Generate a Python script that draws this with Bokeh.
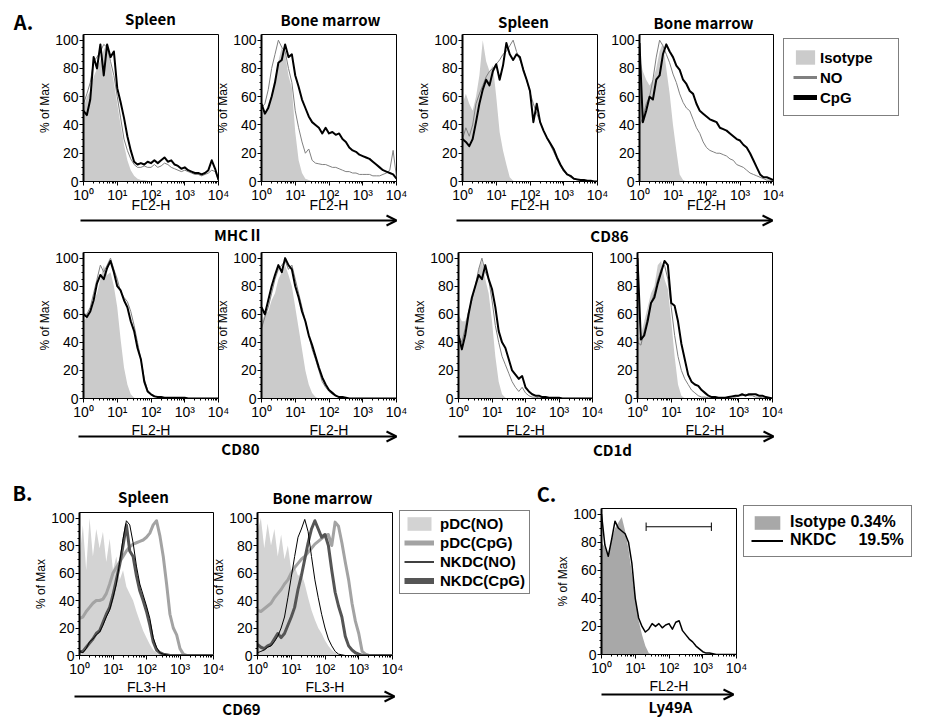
from bokeh.plotting import figure
from bokeh.models import (Range1d, FixedTicker, SingleIntervalTicker, Label, Arrow,
                          OpenHead, Legend, LegendItem)
from bokeh.embed import file_html
from bokeh.resources import INLINE

# ------------------------------------------------------------------ data
# channel positions in decades (log10 of fluorescence)
XD = [0.0, 0.1, 0.2, 0.3, 0.4, 0.5, 0.6, 0.7, 0.8, 0.9,
      1.0, 1.1, 1.2, 1.3, 1.4, 1.5, 1.6, 1.7, 1.8, 1.9,
      2.0, 2.1, 2.2, 2.3, 2.4, 2.5, 2.6, 2.7, 2.8, 2.9,
      3.0, 3.1, 3.2, 3.3, 3.4, 3.5, 3.6, 3.7, 3.8, 3.9,
      4.0]

MAJOR_TICKS = [1, 10, 100, 1000, 10000]
MAJOR_LABELS = ["10\u2070", "10\u00b9", "10\u00b2", "10\u00b3", "10\u2074"]
MINOR_TICKS = [2, 3, 4, 5, 6, 7, 8, 9,
               20, 30, 40, 50, 60, 70, 80, 90,
               200, 300, 400, 500, 600, 700, 800, 900,
               2000, 3000, 4000, 5000, 6000, 7000, 8000, 9000]

# A. MHC II
MHC_SP_ISO = [52, 60, 64, 74, 80, 86, 93, 98, 82, 70,
              55, 40, 26, 15, 8, 4, 2, 1, 1, 0.5,
              0, 0, 0, 0, 0, 0, 0, 0, 0, 0,
              0, 0, 0, 0, 0, 0, 0, 0, 0, 0,
              0]
MHC_SP_NO = [55, 62, 70, 85, 88, 92, 97, 95, 85, 75,
             60, 45, 30, 22, 16, 12, 10, 10, 11, 10,
             10, 12, 10, 11, 13, 12, 10, 9, 8, 7,
             8, 7, 6, 5, 5, 4, 5, 6, 8, 7,
             1]
MHC_SP_CPG = [50, 47, 58, 88, 80, 97, 75, 97, 88, 92,
              66, 56, 45, 32, 22, 14, 12, 13, 12, 14,
              13, 15, 13, 15, 17, 14, 15, 12, 11, 9,
              10, 8, 7, 6, 6, 5, 6, 8, 15, 9,
              1]
MHC_BM_ISO = [50, 48, 55, 62, 74, 85, 95, 90, 75, 66,
              35, 15, 6, 2, 1, 0, 0, 0, 0, 0,
              0, 0, 0, 0, 0, 0, 0, 0, 0, 0,
              0, 0, 0, 0, 0, 0, 0, 0, 0, 0,
              0]
MHC_BM_NO = [52, 55, 65, 80, 90, 100, 95, 92, 80, 70,
             50, 38, 28, 20, 23, 15, 13, 12.5, 12, 12,
             11, 10, 10, 9, 8, 7, 7, 6, 6, 5,
             5, 5, 5, 4, 4, 4, 5, 6, 8, 22,
             3]
MHC_BM_CPG = [55, 48, 52, 60, 70, 84, 86, 97, 88, 90,
              75, 67, 58, 52, 46, 42, 40, 38, 34, 38,
              34, 35, 33, 34, 30, 28, 24, 22, 21, 19,
              18, 17, 16, 14, 12, 10, 8, 7, 6, 5,
              2]
# A. CD86
CD86_SP_ISO = [55, 62, 55, 50, 60, 75, 100, 85, 78, 82,
               60, 35, 22, 12, 3, 0.5, 0, 0, 0, 0,
               0, 0, 0, 0, 0, 0, 0, 0, 0, 0,
               0, 0, 0, 0, 0, 0, 0, 0, 0, 0,
               0]
CD86_SP_NO = [30, 38, 32, 40, 55, 62, 68, 74, 78, 80,
              83, 86, 90, 92, 96, 100, 92, 86, 80, 72,
              63, 55, 48, 42, 36, 31, 26, 21, 16, 11,
              7, 5, 3, 2, 1, 1, 0.5, 0.5, 0, 0,
              0]
CD86_SP_CPG = [30, 28, 25, 30, 42, 55, 65, 72, 68, 78,
               83, 72, 82, 98, 90, 86, 90, 88, 79, 72,
               64, 42, 55, 42, 36, 31, 27, 23, 17, 12,
               8, 5, 4, 2, 1.5, 1, 1, 0.5, 0.5, 0,
               0]
CD86_BM_ISO = [88, 78, 72, 68, 72, 80, 92, 98, 80, 62,
               40, 22, 5, 1, 0, 0, 0, 0, 0, 0,
               0, 0, 0, 0, 0, 0, 0, 0, 0, 0,
               0, 0, 0, 0, 0, 0, 0, 0, 0, 0,
               0]
CD86_BM_NO = [40, 45, 55, 60, 72, 88, 100, 96, 90, 84,
              76, 70, 62, 56, 52, 50, 44, 38, 34, 28,
              24, 22, 21, 20, 20, 19, 18, 16, 15, 12,
              11, 10, 8, 6, 5, 4, 3, 2, 1, 1,
              0]
CD86_BM_CPG = [98, 42, 50, 60, 58, 72, 75, 90, 97, 92,
               88, 82, 79, 72, 69, 64, 62, 55, 50, 48,
               46, 44, 43, 42, 38, 37, 36, 34, 32, 30,
               29, 26, 24, 20, 15, 10, 5, 3, 3, 2,
               1]
# A. CD80
CD80_SP_ISO = [55, 58, 64, 70, 75, 85, 95, 88, 90, 80,
               65, 42, 22, 10, 3, 0.5, 0, 0, 0, 0,
               0, 0, 0, 0, 0, 0, 0, 0, 0, 0,
               0, 0, 0, 0, 0, 0, 0, 0, 0, 0,
               0]
CD80_SP_NO = [60, 60, 65, 75, 85, 95, 90, 95, 100, 92,
              85, 76, 72, 69, 62, 52, 40, 28, 14, 6,
              3, 2, 1, 1, 0.5, 0.5, 0.5, 0.5, 0.5, 0.5,
              0.5, 0, 0, 0, 0, 0, 0, 0, 0, 0,
              0]
CD80_SP_CPG = [60, 58, 62, 70, 82, 88, 85, 93, 98, 90,
               80, 77, 70, 65, 55, 48, 36, 28, 12, 5,
               3, 1.5, 1, 1, 0.5, 0.5, 0.5, 0.5, 0.5, 0.5,
               0.5, 0, 0, 0, 0, 0, 0, 0, 0, 0,
               0]
CD80_BM_ISO = [55, 60, 62, 70, 75, 85, 90, 95, 88, 80,
               65, 50, 35, 20, 10, 4, 1, 0, 0, 0,
               0, 0, 0, 0, 0, 0, 0, 0, 0, 0,
               0, 0, 0, 0, 0, 0, 0, 0, 0, 0,
               0]
CD80_BM_NO = [50, 58, 65, 75, 85, 92, 95, 98, 92, 95,
              85, 75, 65, 55, 45, 35, 28, 20, 12, 8,
              5, 3, 2, 1, 1, 0.5, 0, 0, 0, 0,
              0, 0, 0, 0, 0, 0, 0, 0, 0, 0,
              0]
CD80_BM_CPG = [65, 60, 70, 80, 88, 95, 90, 100, 95, 92,
               80, 72, 62, 55, 45, 38, 30, 22, 15, 10,
               6, 4, 2, 1, 1, 0.5, 0, 0, 0, 0,
               0, 0, 0, 0, 0, 0, 0, 0, 0, 0,
               0]
# A. CD1d
CD1D_SP_ISO = [60, 55, 55, 62, 70, 80, 92, 98, 85, 75,
               55, 30, 12, 3, 0.5, 0, 0, 0, 0, 0,
               0, 0, 0, 0, 0, 0, 0, 0, 0, 0,
               0, 0, 0, 0, 0, 0, 0, 0, 0, 0,
               0]
CD1D_SP_NO = [45, 40, 50, 62, 70, 80, 92, 100, 90, 85,
              70, 52, 40, 30, 24, 18, 12, 8, 5, 8,
              4, 2, 1, 1, 0.5, 0.5, 0.5, 0.5, 0.5, 0.5,
              0.5, 0, 0, 0, 0, 0, 0, 0, 0, 0,
              0]
CD1D_SP_CPG = [45, 35, 45, 60, 72, 80, 88, 85, 95, 85,
               78, 65, 48, 40, 36, 28, 20, 17, 14, 16,
               8, 5, 3, 2, 2, 1, 1, 0.5, 0.5, 0.5,
               0.5, 0, 0, 0, 0, 0, 0, 0, 0, 0,
               0]
CD1D_BM_ISO = [42, 45, 55, 65, 75, 80, 95, 98, 85, 78,
               55, 30, 10, 2, 0, 0, 0, 0, 0, 0,
               0, 0, 0, 0, 0, 0, 0, 0, 0, 0,
               0, 0, 0, 0, 0, 0, 0, 0, 0, 0,
               0]
CD1D_BM_NO = [40, 38, 48, 58, 68, 75, 85, 92, 95, 85,
              65, 45, 30, 20, 14, 10, 6, 4, 2, 1,
              1, 0.5, 0.5, 0.5, 0.5, 0.5, 0.5, 1, 1, 1,
              2, 2, 3, 2, 2, 1, 1, 0.5, 0.5, 0,
              0]
CD1D_BM_CPG = [100, 42, 45, 55, 68, 72, 82, 90, 98, 95,
               68, 66, 55, 39, 28, 17, 12, 10, 9, 6,
               4, 2, 1, 1, 0.5, 0.5, 0.5, 1, 1.5, 2,
               2, 3, 2, 3, 3, 3, 2, 2, 1, 0.5,
               0]
# B. CD69
CD69_SP_PDC_NO = [70, 95, 62, 100, 72, 92, 78, 90, 68, 85,
                  62, 72, 55, 62, 50, 45, 40, 32, 25, 18,
                  13, 8, 4, 2, 1, 0, 0, 0, 0, 0,
                  0, 0, 0, 0, 0, 0, 0, 0, 0, 0,
                  0]
CD69_SP_PDC_CPG = [27, 28, 32, 35, 38, 40, 40, 41, 45, 52,
                   60, 64, 68, 72, 76, 79, 81, 82, 83, 84,
                   86, 89, 95, 98, 87, 72, 52, 30, 20, 15,
                   5, 1, 0, 0, 0, 0, 0, 0, 0, 0,
                   0]
CD69_SP_NKDC_NO = [3, 2, 5, 10, 12, 15, 17, 22, 28, 33,
                   42, 52, 68, 85, 98, 95, 82, 65, 52, 44,
                   36, 27, 13, 6, 2, 1, 0.5, 0, 0, 0,
                   0, 0, 0, 0, 0, 0, 0, 0, 0, 0,
                   0]
CD69_SP_NKDC_CPG = [3, 3, 6, 9, 12, 16, 18, 24, 30, 35,
                    44, 55, 66, 80, 95, 76, 72, 58, 47, 40,
                    32, 22, 10, 4, 2, 1, 0.5, 0, 0, 0,
                    0, 0, 0, 0, 0, 0, 0, 0, 0, 0,
                    0]
CD69_BM_PDC_NO = [90, 100, 78, 96, 80, 92, 72, 88, 70, 80,
                  62, 65, 58, 60, 52, 42, 33, 26, 20, 16,
                  11, 7, 4, 2, 1, 0, 0, 0, 0, 0,
                  0, 0, 0, 0, 0, 0, 0, 0, 0, 0,
                  0]
CD69_BM_PDC_CPG = [33, 32, 34, 36, 38, 42, 45, 48, 52, 55,
                   60, 64, 67, 70, 72, 75, 78, 81, 83, 85,
                   87, 88, 80, 97, 94, 82, 68, 55, 38, 25,
                   16, 3, 1, 0, 0, 0, 0, 0, 0, 0,
                   0]
CD69_BM_NKDC_NO = [2, 3, 4, 6, 7, 10, 14, 20, 28, 42,
                   57, 72, 86, 92, 99, 90, 72, 55, 42, 30,
                   20, 12, 7, 3, 1, 0.5, 0, 0, 0, 0,
                   0, 0, 0, 0, 0, 0, 0, 0, 0, 0,
                   0]
CD69_BM_NKDC_CPG = [8, 6, 5, 7, 8, 12, 16, 13, 16, 22,
                    28, 35, 48, 58, 70, 82, 92, 98, 92, 86,
                    88, 80, 62, 46, 36, 28, 14, 7, 4, 2,
                    1, 0, 0, 0, 0, 0, 0, 0, 0, 0,
                    0]
# C. Ly49A
LY49A_ISO = [80, 76, 70, 82, 90, 94, 98, 88, 75, 58,
             42, 24, 14, 6, 1, 0, 0, 0, 0, 0,
             0, 0, 0, 0, 0, 0, 0, 0, 0, 0,
             0, 0, 0, 0, 0, 0, 0, 0, 0, 0,
             0]
LY49A_NKDC = [100, 78, 70, 82, 95, 90, 88, 86, 80, 65,
              40, 26, 20, 16, 18, 22, 20, 22, 19, 21,
              22, 18, 23, 24, 17, 14, 11, 9, 6, 4,
              2, 1, 1, 0.5, 0, 0, 0, 0, 0, 0,
              0]
LY49A_GATE = [21, 1800]
LY49A_GATE_LEVEL = 91

X = [10 ** d for d in XD]

# ------------------------------------------------------------------ layout / style
W, H = 935, 723
YTOP = 104
TXT_FONT = "Noto Sans CJK KR"
LEG_FONT = "Liberation Sans"
NUM_FONT = "Liberation Sans"
ISO_A = "#cbcbcb"
NO_A = "#808080"
PDC_NO = "#d3d3d3"
PDC_CPG = "#a3a3a3"
NKDC_CPG = "#555555"
ISO_C = "#a8a8a8"

figs = []


def frame_fig(frame, **kw):
    """A page-sized transparent canvas whose plotting frame sits at `frame`."""
    l, t, r, b = frame
    p = figure(width=W, height=H, output_backend="svg", toolbar_location=None,
               min_border_left=l, min_border_top=t,
               min_border_right=W - r, min_border_bottom=H - b, **kw)
    p.border_fill_color = None
    p.background_fill_color = None
    p.xgrid.visible = False
    p.ygrid.visible = False
    p.styles = {"position": "absolute", "left": "0px", "top": "0px"}
    figs.append(p)
    return p


def hist(frame, xlabel, xlab_standoff):
    p = frame_fig(frame, x_axis_type="log", x_range=Range1d(1, 10000),
                  y_range=Range1d(0, YTOP))
    p.outline_line_color = "black"
    p.outline_line_width = 1
    xa = p.xaxis[0]
    ya = p.yaxis[0]
    xa.ticker = FixedTicker(ticks=MAJOR_TICKS, minor_ticks=MINOR_TICKS)
    xa.major_label_overrides = {t: s for t, s in zip(MAJOR_TICKS, MAJOR_LABELS)}
    xa.axis_label = xlabel
    xa.axis_label_standoff = xlab_standoff
    ya.ticker = SingleIntervalTicker(interval=20, num_minor_ticks=4)
    ya.axis_label = "% of Max"
    ya.axis_label_standoff = 0
    ya.axis_line_width = 2
    xa.axis_label_text_font_size = "14px"
    ya.axis_label_text_font_size = "12px"
    for a in (xa, ya):
        a.axis_label_text_font = NUM_FONT
        a.axis_label_text_font_style = "normal"
        a.axis_label_text_color = "black"
        a.major_label_text_font = NUM_FONT
        a.major_label_text_font_size = "14px"
        a.major_label_text_color = "black"
        a.major_tick_in = 0
        a.minor_tick_in = 0
        a.major_tick_out = 4
        a.minor_tick_out = 2
        a.major_label_standoff = 1
        a.axis_line_color = "black"
        a.major_tick_line_color = "black"
        a.minor_tick_line_color = "black"
    return p


def panel_a(frame, iso, no, cpg, xlab_standoff):
    p = hist(frame, "FL2-H", xlab_standoff)
    p.varea(x=X, y1=0, y2=iso, fill_color=ISO_A)
    p.line(X, no, line_color=NO_A, line_width=1)
    p.line(X, cpg, line_color="black", line_width=2, line_join="round")
    return p


def panel_b(frame, pno, pcpg, nno, ncpg):
    p = hist(frame, "FL3-H", -1)
    p.varea(x=X, y1=0, y2=pno, fill_color=PDC_NO)
    p.line(X, pcpg, line_color=PDC_CPG, line_width=3, line_join="round")
    p.line(X, ncpg, line_color=NKDC_CPG, line_width=3, line_join="round")
    p.line(X, nno, line_color="black", line_width=1)
    return p


# frames: (left, top, right, bottom) on the page
panel_a((83, 34, 218, 181), MHC_SP_ISO, MHC_SP_NO, MHC_SP_CPG, -9)
panel_a((261, 34, 396, 181), MHC_BM_ISO, MHC_BM_NO, MHC_BM_CPG, -9)
panel_a((462, 34, 597, 181), CD86_SP_ISO, CD86_SP_NO, CD86_SP_CPG, -9)
panel_a((639, 34, 773, 181), CD86_BM_ISO, CD86_BM_NO, CD86_BM_CPG, -9)
panel_a((83, 252, 218, 398), CD80_SP_ISO, CD80_SP_NO, CD80_SP_CPG, -1)
panel_a((261, 252, 396, 398), CD80_BM_ISO, CD80_BM_NO, CD80_BM_CPG, -1)
panel_a((458, 252, 592, 398), CD1D_SP_ISO, CD1D_SP_NO, CD1D_SP_CPG, -1)
panel_a((637, 252, 772, 398), CD1D_BM_ISO, CD1D_BM_NO, CD1D_BM_CPG, -1)
panel_b((79, 512, 213, 655), CD69_SP_PDC_NO, CD69_SP_PDC_CPG, CD69_SP_NKDC_NO, CD69_SP_NKDC_CPG)
panel_b((257, 512, 392, 655), CD69_BM_PDC_NO, CD69_BM_PDC_CPG, CD69_BM_NKDC_NO, CD69_BM_NKDC_CPG)

pc = hist((601, 508, 736, 654), "FL2-H", -1)
pc.varea(x=X, y1=0, y2=LY49A_ISO, fill_color=ISO_C)
pc.line(X, LY49A_NKDC, line_color="black", line_width=1.5, line_join="round")
pc.line(x=LY49A_GATE, y=[LY49A_GATE_LEVEL, LY49A_GATE_LEVEL], line_color="black", line_width=1)
pc.segment(x0=LY49A_GATE, y0=[LY49A_GATE_LEVEL - 3] * 2, x1=LY49A_GATE,
           y1=[LY49A_GATE_LEVEL + 3] * 2, line_color="black", line_width=1)


# ------------------------------------------------------------------ legends
def legend_fig(corner, entries, font_size, glyph_w, glyph_h, padding, spacing, label_w, standoff):
    # the legend renderers carry real series but the view range keeps them out of sight;
    # the frame runs to the page corner so that the legend box is never clipped
    lf = frame_fig((corner[0], corner[1], W, H), x_range=Range1d(-3, -2), y_range=Range1d(-3, -2),
                   x_axis_location=None, y_axis_location=None)
    lf.outline_line_color = None
    items = []
    for kind, label, color, width, series in entries:
        if kind == "area":
            r = lf.varea(x=X, y1=0, y2=series, fill_color=color)
        else:
            r = lf.line(X, series, line_color=color, line_width=width)
        items.append(LegendItem(label=label, renderers=[r]))
    leg = Legend(items=items, location="top_left", margin=0, padding=padding,
                 spacing=spacing, glyph_width=glyph_w, glyph_height=glyph_h,
                 label_height=glyph_h, label_width=label_w, label_standoff=standoff,
                 border_line_color="black", border_line_width=1,
                 background_fill_color="white", background_fill_alpha=1,
                 label_text_font=LEG_FONT, label_text_font_style="bold",
                 label_text_font_size=font_size, label_text_color="black")
    lf.add_layout(leg)
    return lf


legend_fig((783, 38),
           [("area", "Isotype", ISO_A, 0, MHC_SP_ISO),
            ("line", "NO", NO_A, 3, MHC_SP_NO),
            ("line", "CpG", "black", 5, MHC_SP_CPG)],
           "15px", 24, 18, 9, 2, 69, 3)
legend_fig((399, 510),
           [("area", "pDC(NO)", PDC_NO, 0, CD69_SP_PDC_NO),
            ("line", "pDC(CpG)", PDC_CPG, 5, CD69_SP_PDC_CPG),
            ("line", "NKDC(NO)", "black", 1.5, CD69_SP_NKDC_NO),
            ("line", "NKDC(CpG)", NKDC_CPG, 6, CD69_SP_NKDC_CPG)],
           "15px", 30, 17, 4, 2, 80, 6)
legend_fig((743, 505),
           [("area", "Isotype 0.34%", ISO_C, 0, LY49A_ISO),
            ("line", "NKDC\u00a0\u00a0\u00a0\u00a0\u00a019.5%", "black", 2, LY49A_NKDC)],
           "16px", 32, 17, 7, 0, 100, 7)

# ------------------------------------------------------------------ overlay: titles, arrows, panel letters
ov = frame_fig((0, 0, W, H), x_range=Range1d(0, W), y_range=Range1d(H, 0),
               x_axis_location=None, y_axis_location=None)
ov.outline_line_color = None

TITLES = [("Spleen", 150, 18), ("Bone marrow", 330, 19), ("Spleen", 523, 21),
          ("Bone marrow", 703, 22), ("Spleen", 143, 496), ("Bone marrow", 322, 497)]
MARKERS = [("MHC\u2161", 238, 234), ("CD86", 609, 235), ("CD80", 240, 448),
           ("CD1d", 612, 449), ("CD69", 241, 708), ("Ly49A", 670, 706)]
LETTERS = [("A.", 23, 21), ("B.", 22, 492), ("C.", 546, 493)]
ARROWS = [(80, 220, 396, 220), (456, 220, 772, 220), (78, 436, 396, 436),
          (458, 436, 773, 436), (74, 696, 394, 696), (601, 694, 733, 694)]

for txt, x, y in TITLES + MARKERS:
    ov.add_layout(Label(x=x, y=y, text=txt, text_align="center", text_baseline="middle",
                        text_font=TXT_FONT, text_font_style="bold", text_font_size="15px",
                        text_color="black"))
for txt, x, y in LETTERS:
    ov.add_layout(Label(x=x, y=y, text=txt, text_align="center", text_baseline="middle",
                        text_font=TXT_FONT, text_font_style="bold", text_font_size="20px",
                        text_color="black"))
for x0, y0, x1, y1 in ARROWS:
    ov.add_layout(Arrow(end=OpenHead(size=10, line_width=2, line_color="black"),
                        x_start=x0, y_start=y0, x_end=x1, y_end=y1,
                        line_width=2, line_color="black"))

open("out.html", "w").write(file_html(figs, INLINE, "figure"))
